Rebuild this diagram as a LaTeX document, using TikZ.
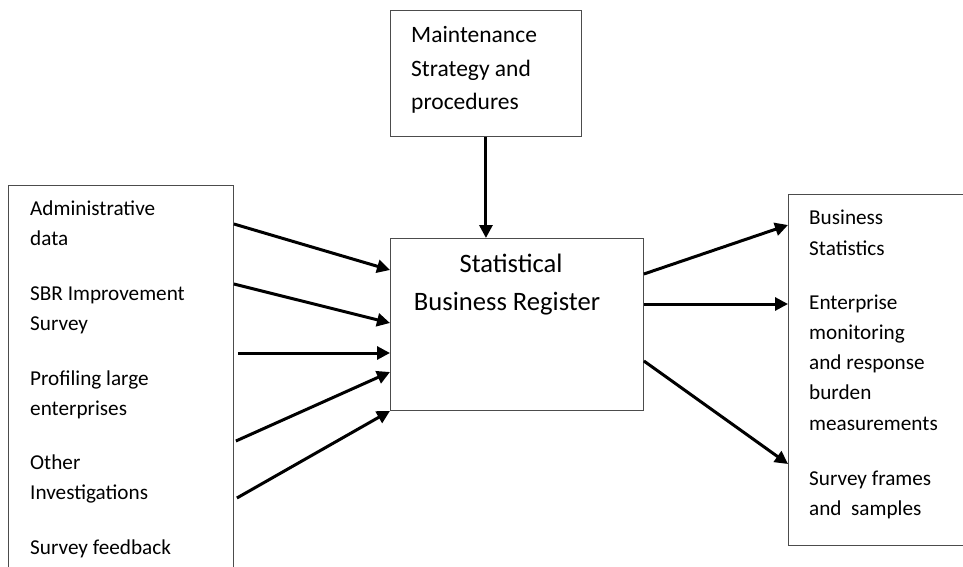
\documentclass[tikz,border=0pt]{standalone}
\usepackage{fontspec}
\setmainfont{Carlito}
\usetikzlibrary{arrows.meta,calc}
\begin{document}
\begin{tikzpicture}[x=1pt,y=-1pt,
 box/.style={draw=black!70,line width=0.9pt,inner sep=0pt,anchor=north west},
 txt/.style={anchor=base west,inner sep=0pt,font=\fontsize{21.2}{24}\selectfont},
 toptxt/.style={anchor=base west,inner sep=0pt,font=\fontsize{23.5}{26}\selectfont},
 big/.style={anchor=base,inner sep=0pt,font=\fontsize{26.6}{30}\selectfont},
 arr/.style={line width=3pt,-{Triangle[length=13pt,width=13pt]}}]
\useasboundingbox (0,0) rectangle (963,567);
% boxes
\node[box,minimum width=225pt,minimum height=420pt] (src) at (8,185) {};
\node[box,minimum width=191pt,minimum height=126pt] (maint) at (390,10) {};
\node[box,minimum width=253pt,minimum height=172pt] (reg) at (390,238) {};
\node[box,minimum width=220pt,minimum height=351pt] (out) at (788,194) {};
% left texts
\node[txt] (l1) at (30,215) {Administrative};
\node[txt] (l2) at (30,245) {data};
\node[txt] (l3) at (30,300) {SBR Improvement};
\node[txt] (l4) at (30,330) {Survey};
\node[txt] (l5) at (30,385) {Profiling large};
\node[txt] (l6) at (30,415) {enterprises};
\node[txt] (l7) at (30,469) {Other};
\node[txt] (l8) at (30,499) {Investigations};
\node[txt] (l9) at (30,554) {Survey feedback};
% top texts
\node[toptxt] (m1) at (411,43) {Maintenance};
\node[toptxt] (m2) at (411,77) {Strategy and};
\node[toptxt] (m3) at (411,110) {procedures};
% center texts
\node[big] (c1) at (511,272) {Statistical};
\node[big] (c2) at (507,310) {Business Register};
% right texts
\node[txt] (r1) at (809,224) {Business};
\node[txt] (r2) at (809,255) {Statistics};
\node[txt] (r3) at (809,309) {Enterprise};
\node[txt] (r4) at (809,339) {monitoring};
\node[txt] (r5) at (809,369) {and response};
\node[txt] (r6) at (809,399) {burden};
\node[txt] (r7) at (809,430) {measurements};
\node[txt] (r8) at (809,485) {Survey frames};
\node[txt] (r9) at (809,515) {and\ \ samples};
% arrows in
\draw[arr] (src.east |- 0,224) -- (reg.west |- 0,270);
\draw[arr] (src.east |- 0,284) -- (reg.west |- 0,323);
\draw[arr] ($(src.east |- 0,353)+(4,0)$) -- (reg.west |- 0,353);
\draw[arr] ($(src.east |- 0,441)+(2,0)$) -- (reg.west |- 0,372);
\draw[arr] ($(src.east |- 0,498)+(3,0)$) -- (reg.south west);
\draw[arr] (maint.south) -- (maint.south |- reg.north);
% arrows out
\draw[arr] (reg.east |- 0,274) -- (out.west |- 0,225);
\draw[arr] (reg.east |- 0,304) -- (out.west |- 0,304);
\draw[arr] (reg.east |- 0,361) -- (out.west |- 0,464);
\end{tikzpicture}
\end{document}
